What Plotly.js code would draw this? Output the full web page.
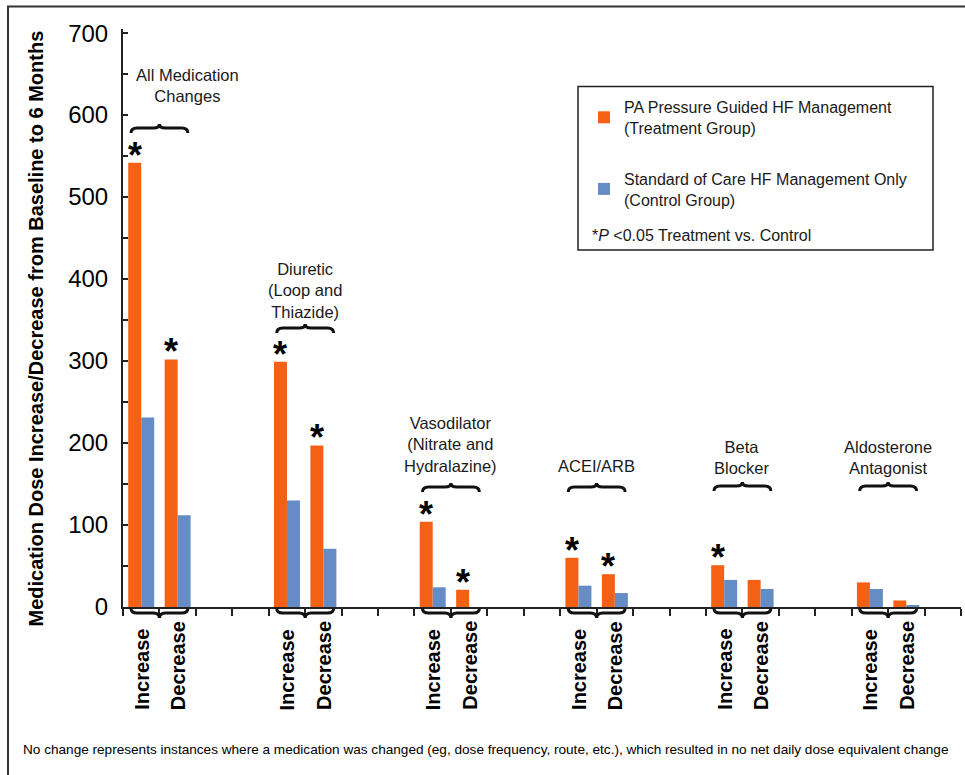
<!DOCTYPE html>
<html>
<head>
<meta charset="utf-8">
<script src="https://cdn.plot.ly/plotly-3.0.1.min.js"></script>
<style>html,body{margin:0;padding:0;background:#fff;}#chart{width:965px;height:775px;}</style>
</head>
<body>
<div id="chart"></div>
<script>
// ---- data ----
const groupLabels = ['All Medication<br>Changes', 'Diuretic<br>(Loop and<br>Thiazide)', 'Vasodilator<br>(Nitrate and<br>Hydralazine)', 'ACEI/ARB', 'Beta<br>Blocker', 'Aldosterone<br>Antagonist'];
const changeTypes = ['Increase', 'Decrease'];
const treatIncrease = [542, 299, 104, 60, 51, 30];
const treatDecrease = [302, 197, 21, 40, 33, 8];
const controlIncrease = [231, 130, 24, 26, 33, 22];
const controlDecrease = [112, 71, 0, 17, 22, 2];
const sigIncrease = [true, true, true, true, true, false];
const sigDecrease = [true, true, true, true, false, false];
const seriesNames = ['PA Pressure Guided HF Management<br>(Treatment Group)', 'Standard of Care HF Management Only<br>(Control Group)'];
const footnote = 'No change represents instances where a medication was changed (eg, dose frequency, route, etc.), which resulted in no net daily dose equivalent change';
const yTitle = 'Medication Dose Increase/Decrease from Baseline to 6 Months';
const yTicks = [0, 100, 200, 300, 400, 500, 600, 700];

// ---- layout constants ----
const FONT = 'Liberation Sans, Arial, sans-serif';
const ORANGE = '#F46115', BLUE = '#658CC4', INK = '#1a1a1a';
const L = 123, R = 4, T = 29, B = 168, WIDTH = 965, HEIGHT = 775;
const PW = WIDTH - L - R, PH = HEIGHT - T - B, BOTTOM = HEIGHT - B;
const px2x = p => (p - L) / PW;
const px2y = p => (BOTTOM - p) / PH;
const SLOTS = 4;
const nSlots = groupLabels.length * SLOTS - 1;
const slotPx = PW / nSlots;
// label centres (px) and brace end heights (px) for each group
const labelYpx = [86, 290, 444, 466, 457, 457];
const labelDx = [0.78, 0, 0, 0, 0, 0];
const braceEndPx = [133, 333, 492, 492, 491, 491];

// ---- traces ----
const xs = [], yT = [], yC = [];
groupLabels.forEach((g, i) => {
  xs.push(i * SLOTS, i * SLOTS + 1);
  yT.push(treatIncrease[i], treatDecrease[i]);
  yC.push(controlIncrease[i], controlDecrease[i]);
});
const traces = [
  {type: 'bar', name: seriesNames[0], x: xs, y: yT, marker: {color: ORANGE}, legendgroup: 'a', hoverinfo: 'y'},
  {type: 'bar', name: seriesNames[1], x: xs, y: yC, marker: {color: BLUE}, legendgroup: 'b', hoverinfo: 'y'}
];

const bargap = 0.287;
const barW = (1 - bargap) / 2;

// ---- annotations & shapes ----
const annotations = [];
const shapes = [];
function bracePath(x0, xm, x1, yEnd, yFlat, yTip, r) {
  return `M${x0},${yEnd} Q${x0},${yFlat} ${x0 + r},${yFlat} L${xm - r},${yFlat} Q${xm},${yFlat} ${xm},${yTip} Q${xm},${yFlat} ${xm + r},${yFlat} L${x1 - r},${yFlat} Q${x1},${yFlat} ${x1},${yEnd}`;
}
const rX = 6 / slotPx;
const span = 8 / slotPx;
groupLabels.forEach((g, i) => {
  const xi = i * SLOTS, xd = xi + 1, xm = xi + 0.5;
  // top brace
  const e = braceEndPx[i];
  shapes.push({type: 'path', xref: 'x', yref: 'paper', path: bracePath(xi - 0.5 + span, xm, xd + 0.5 - span, px2y(e), px2y(e - 5), px2y(e - 9), rX), line: {color: '#111', width: 3}});
  // bottom brace
  shapes.push({type: 'path', xref: 'x', yref: 'paper', path: bracePath(xi - 0.5 + span, xm, xd + 0.5 - span, px2y(BOTTOM + 1.5), px2y(BOTTOM + 6), px2y(BOTTOM + 11), rX), line: {color: '#111', width: 3}});
  // group label
  annotations.push({xref: 'x', yref: 'paper', x: xm + labelDx[i], y: px2y(labelYpx[i]), text: g, showarrow: false, xanchor: 'center', yanchor: 'middle', font: {family: FONT, size: 16.5, color: INK}});
  // change labels
  [xi, xd].forEach((x, k) => {
    annotations.push({xref: 'x', yref: 'paper', x: x, y: px2y(712), text: '<b>' + changeTypes[k] + '</b>', textangle: -90, showarrow: false, xanchor: 'center', yanchor: 'bottom', font: {family: FONT, size: 20, color: '#000'}});
  });
  // significance asterisks
  if (sigIncrease[i]) annotations.push({x: xi - barW / 2, y: treatIncrease[i], text: '<b>*</b>', showarrow: false, xanchor: 'center', yanchor: 'bottom', yshift: -15, font: {family: FONT, size: 36, color: '#000'}});
  if (sigDecrease[i]) annotations.push({x: xd - barW / 2, y: treatDecrease[i], text: '<b>*</b>', showarrow: false, xanchor: 'center', yanchor: 'bottom', yshift: -15, font: {family: FONT, size: 36, color: '#000'}});
});

// y-axis title
annotations.push({xref: 'paper', yref: 'paper', x: px2x(35.5), y: px2y(329), text: '<b>' + yTitle + '</b>', textangle: -90, showarrow: false, xanchor: 'center', yanchor: 'middle', font: {family: FONT, size: 20, color: '#000'}});
// legend note
annotations.push({xref: 'paper', yref: 'paper', x: px2x(590), y: px2y(235), text: '*<i>P</i> &lt;0.05 Treatment vs. Control', showarrow: false, xanchor: 'left', yanchor: 'middle', font: {family: FONT, size: 16, color: INK}});
// footnote
annotations.push({xref: 'paper', yref: 'paper', x: px2x(21), y: px2y(749), text: footnote, showarrow: false, xanchor: 'left', yanchor: 'middle', font: {family: FONT, size: 13.6, color: '#000'}});

// legend box
shapes.push({type: 'rect', xref: 'paper', yref: 'paper', x0: px2x(578), x1: px2x(933), y0: px2y(250), y1: px2y(86.5), line: {color: '#222', width: 1.5}});
// outer frame
shapes.push({type: 'rect', xref: 'paper', yref: 'paper', x0: px2x(8), x1: px2x(975), y0: px2y(785), y1: px2y(6.5), line: {color: '#333', width: 2}});

const boundaries = [];
for (let k = 0; k <= nSlots; k++) boundaries.push(k - 0.5);

const layout = {
  width: WIDTH, height: HEIGHT,
  margin: {l: L, r: R, t: T, b: B, pad: 0},
  paper_bgcolor: '#fff', plot_bgcolor: '#fff',
  font: {family: FONT, color: INK},
  barmode: 'group', bargap: bargap, bargroupgap: 0,
  showlegend: true,
  legend: {x: px2x(584), y: px2y(90), xanchor: 'left', yanchor: 'top', bgcolor: 'rgba(0,0,0,0)', borderwidth: 0, font: {family: FONT, size: 16, color: INK}, tracegroupgap: 27, traceorder: 'grouped'},
  xaxis: {range: [-0.5, nSlots - 0.5], tickmode: 'array', tickvals: boundaries, showticklabels: false, ticks: 'outside', ticklen: 7, tickwidth: 2, tickcolor: '#222', showline: true, linewidth: 2, linecolor: '#222', showgrid: false, zeroline: false, fixedrange: true},
  yaxis: {range: [0, 705], tickmode: 'array', tickvals: yTicks, ticktext: yTicks.map(String), ticks: 'inside', ticklen: 5, tickwidth: 2, tickcolor: '#222', minor: {tickmode: 'array', tickvals: yTicks.slice(0, -1).map(v => v + 50), ticks: 'inside', ticklen: 5, tickwidth: 2, tickcolor: '#222'}, showline: true, linewidth: 2, linecolor: '#222', showgrid: false, zeroline: false, tickfont: {family: FONT, size: 24, color: '#000'}, ticklabelstandoff: 8, fixedrange: true},
  annotations: annotations,
  shapes: shapes
};

Plotly.newPlot('chart', traces, layout, {displayModeBar: false});
</script>
</body>
</html>
